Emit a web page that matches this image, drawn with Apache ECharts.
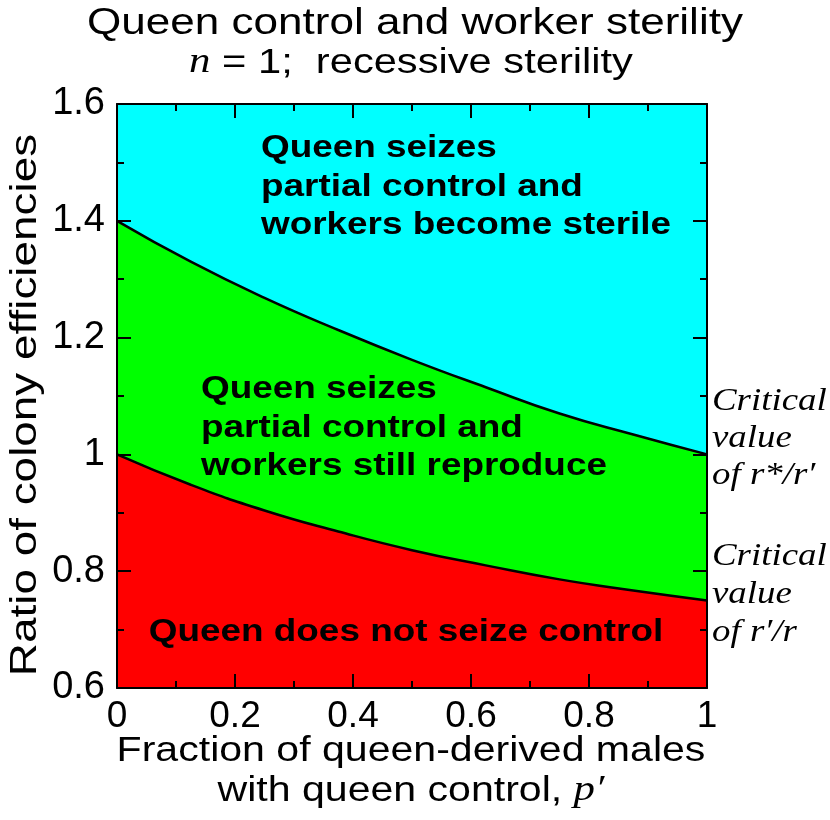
<!DOCTYPE html>
<html><head><meta charset="utf-8">
<script src="https://cdn.jsdelivr.net/npm/echarts@6/dist/echarts.min.js"></script>
<style>html,body{margin:0;padding:0;background:#fff}#c{width:830px;height:820px}</style>
</head><body><div id="c"></div>
<script>
// Fraction of queen-derived males with queen control, p'
const pValues = [0, 0.125, 0.25, 0.375, 0.5, 0.625, 0.75, 0.875, 1];
// Critical value of r'/r (boundary red / green)
const lowerBoundary = [1.0, 0.948, 0.904, 0.868, 0.836, 0.810, 0.786, 0.767, 0.75];
// Critical value of r*/r' (boundary green / cyan)
const upperBoundary = [1.4, 1.330, 1.268, 1.213, 1.162, 1.115, 1.070, 1.034, 1.0];
const xRange = [0, 1];
const yRange = [0.6, 1.6];
const tickStep = 0.2;

const titleLine1 = 'Queen control and worker sterility';
const regionLabels = {
  top: ['Queen seizes', 'partial control and', 'workers become sterile'],
  mid: ['Queen seizes', 'partial control and', 'workers still reproduce'],
  low: 'Queen does not seize control'
};

const chart = echarts.init(document.getElementById('c'), null, {renderer: 'canvas'});
const SANS = '"Liberation Sans", Arial, Helvetica, sans-serif';
const SERIF = '"Liberation Serif", "Times New Roman", serif';
const SX = 1.19;

function txt(x, y, text, size, opts) {
  opts = opts || {};
  return {
    type: 'text', x: x, y: y, scaleX: opts.sx || SX, z: 100,
    style: Object.assign({
      text: text,
      font: (opts.weight || 'normal') + ' ' + (opts.style || 'normal') + ' ' + size + 'px ' + (opts.family || SANS),
      fill: '#000',
      align: opts.align || 'center',
      verticalAlign: 'middle'
    }, opts.extra || {})
  };
}

const axisCommon = {
  type: 'value',
  z: 10,
  axisLine: {show: true, onZero: false, lineStyle: {color: '#000', width: 2}},
  axisTick: {show: true, inside: true, length: 14, lineStyle: {color: '#000', width: 2}},
  minorTick: {show: true, splitNumber: 2, length: 7, lineStyle: {color: '#000', width: 2}},
  splitLine: {show: false},
  minorSplitLine: {show: false}
};

const option = {
  animation: false,
  backgroundColor: '#fff',
  grid: {left: 117, right: 123, top: 104, bottom: 132, show: true, backgroundColor: '#00ffff', borderWidth: 0, z: 0},
  xAxis: [
    Object.assign({}, axisCommon, {
      position: 'bottom', min: xRange[0], max: xRange[1], interval: tickStep,
      axisLabel: {show: true, margin: 10, fontSize: 37, color: '#000', fontFamily: SANS, showMinLabel: true, showMaxLabel: true}
    }),
    Object.assign({}, axisCommon, {
      position: 'top', min: xRange[0], max: xRange[1], interval: tickStep,
      axisLabel: {show: false}
    })
  ],
  yAxis: [
    Object.assign({}, axisCommon, {
      position: 'left', min: yRange[0], max: yRange[1], interval: tickStep,
      axisLabel: {show: true, margin: 12, fontSize: 38, color: '#000', fontFamily: SANS, showMinLabel: true, showMaxLabel: true}
    }),
    Object.assign({}, axisCommon, {
      position: 'right', min: yRange[0], max: yRange[1], interval: tickStep,
      axisLabel: {show: false}
    })
  ],
  series: [
    {
      type: 'line', xAxisIndex: 0, yAxisIndex: 0, smooth: true, showSymbol: false,
      data: pValues.map((p, i) => [p, upperBoundary[i]]),
      lineStyle: {color: '#000', width: 2.5},
      areaStyle: {color: '#00ff00', opacity: 1, origin: 'start'},
      z: 2
    },
    {
      type: 'line', xAxisIndex: 0, yAxisIndex: 0, smooth: true, showSymbol: false,
      data: pValues.map((p, i) => [p, lowerBoundary[i]]),
      lineStyle: {color: '#000', width: 2.5},
      areaStyle: {color: '#ff0000', opacity: 1, origin: 'start'},
      z: 3
    }
  ],
  graphic: [
    txt(415, 24, titleLine1, 37),
    txt(411, 63, '{i|n}{s| = 1;  recessive sterility}', 35, {extra: {rich: {
      i: {font: 'italic 36px ' + SERIF, fill: '#000'},
      s: {font: '35px ' + SANS, fill: '#000'}
    }}}),
    // axis titles
    Object.assign(txt(26, 405, 'Ratio of colony efficiencies', 37, {sx: 1.24}), {rotation: Math.PI / 2}),
    txt(411, 751, 'Fraction of queen-derived males', 34.5),
    txt(411, 791, '{s|with queen control, }{i|p\u2032}', 34.5, {extra: {rich: {
      i: {font: 'italic 36px ' + SERIF, fill: '#000'},
      s: {font: '34.5px ' + SANS, fill: '#000'}
    }}}),
    // region labels
    txt(261, 148, regionLabels.top[0], 31, {weight: 'bold', align: 'left'}),
    txt(261, 187, regionLabels.top[1], 31, {weight: 'bold', align: 'left'}),
    txt(261, 225, regionLabels.top[2], 31, {weight: 'bold', align: 'left'}),
    txt(201, 389, regionLabels.mid[0], 31, {weight: 'bold', align: 'left'}),
    txt(201, 428, regionLabels.mid[1], 31, {weight: 'bold', align: 'left'}),
    txt(201, 466, regionLabels.mid[2], 31, {weight: 'bold', align: 'left'}),
    txt(406, 632, regionLabels.low, 31, {weight: 'bold'}),
    // right side annotations
    txt(712, 402, 'Critical', 31, {style: 'italic', family: SERIF, align: 'left'}),
    txt(712, 439, 'value', 31, {style: 'italic', family: SERIF, align: 'left'}),
    txt(712, 476, 'of r*/r\u2032', 31, {style: 'italic', family: SERIF, align: 'left'}),
    txt(712, 557, 'Critical', 31, {style: 'italic', family: SERIF, align: 'left'}),
    txt(712, 595, 'value', 31, {style: 'italic', family: SERIF, align: 'left'}),
    txt(712, 633, 'of r\u2032/r', 31, {style: 'italic', family: SERIF, align: 'left'})
  ]
};
chart.setOption(option);
</script>
</body></html>
